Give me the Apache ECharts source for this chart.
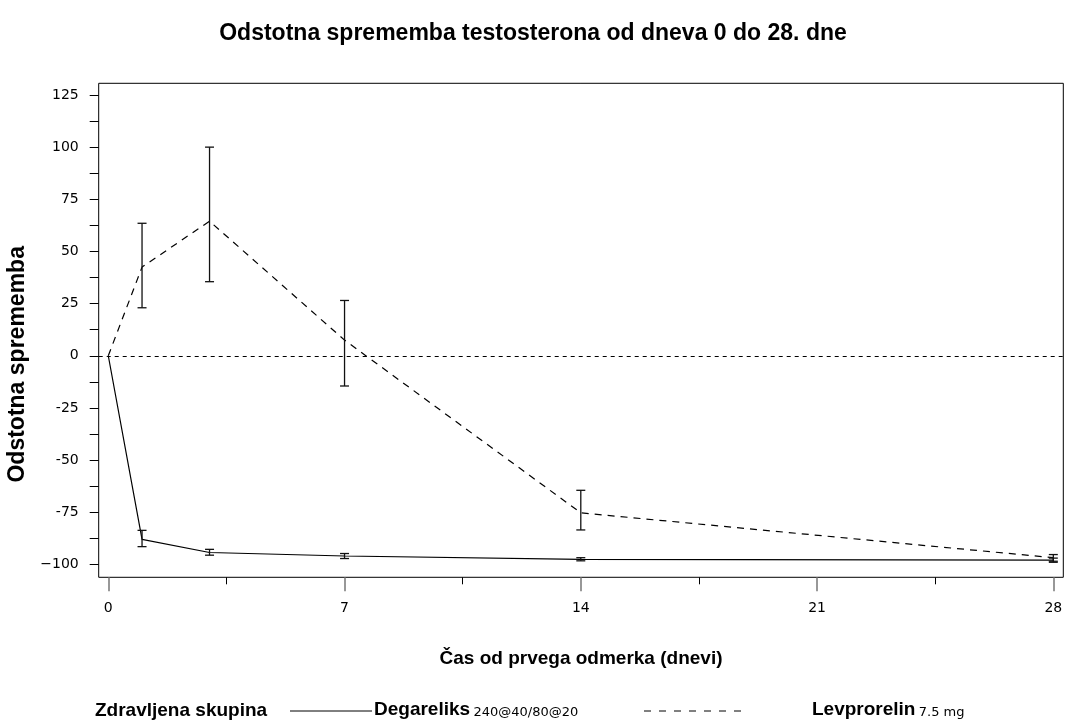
<!DOCTYPE html>
<html>
<head>
<meta charset="utf-8" />
<title>Odstotna sprememba testosterona</title>
<script src="https://cdn.jsdelivr.net/npm/echarts@6/dist/echarts.min.js"></script>
<style>
html, body { margin: 0; padding: 0; background: #fff; }
#chart { width: 1066px; height: 720px; }
</style>
</head>
<body>
<div id="chart"></div>
<script>
// days of measurement
var days = [0, 1, 3, 7, 14, 28];

// Degareliks (solid line)
var degMean = [0, -88, -94.3, -96, -97.6, -98];
var degLow = [null, -91.5, -95.6, -97.2, -98.3, -99];
var degHigh = [null, -83.7, -92.8, -94.8, -96.8, -97];

// Levprorelin (dashed line)
var levMean = [0, 42.5, 64.5, 7.5, -75.3, -96.8];
var levLow = [null, 23, 35.5, -14.5, -83.5, -98.5];
var levHigh = [null, 63.5, 100, 26.5, -64.5, -95.3];

var xLabels = [0, 7, 14, 21, 28];
var xMinor = [3.5, 10.5, 17.5, 24.5];
var yLabels = [-100, -75, -50, -25, 0, 25, 50, 75, 100, 125];
var yTicks = [-100, -87.5, -75, -62.5, -50, -37.5, -25, -12.5, 0, 12.5, 25, 37.5, 50, 62.5, 75, 87.5, 100, 112.5, 125];

function pairs(xs, ys) {
  var out = [];
  for (var i = 0; i < xs.length; i++) out.push([xs[i], ys[i]]);
  return out;
}
function bars(xs, lo, hi) {
  var out = [];
  for (var i = 0; i < xs.length; i++) {
    if (lo[i] == null) continue;
    out.push([xs[i], lo[i], hi[i]]);
  }
  return out;
}

function errorBar(params, api) {
  var x = api.value(0);
  var lo = api.coord([x, api.value(1)]);
  var hi = api.coord([x, api.value(2)]);
  var w = 4.5;
  var st = { stroke: '#111', lineWidth: 1.3 };
  return {
    type: 'group',
    children: [
      { type: 'line', shape: { x1: lo[0], y1: lo[1], x2: hi[0], y2: hi[1] }, style: st },
      { type: 'line', shape: { x1: lo[0] - w, y1: lo[1], x2: lo[0] + w, y2: lo[1] }, style: st },
      { type: 'line', shape: { x1: hi[0] - w, y1: hi[1], x2: hi[0] + w, y2: hi[1] }, style: st }
    ]
  };
}

var tickFont = 'DejaVu Sans';
var boldFont = 'Liberation Sans';

var myChart = echarts.init(document.getElementById('chart'), null, { renderer: 'canvas' });

var option = {
  animation: false,
  backgroundColor: '#fff',
  title: {
    text: 'Odstotna sprememba testosterona od dneva 0 do 28. dne',
    left: 'center',
    top: 17,
    textStyle: { fontFamily: boldFont, fontWeight: 'bold', fontSize: 23, color: '#000' }
  },
  grid: {
    left: 98.7, right: 2.7, top: 83.3, bottom: 142.7,
    outerBoundsMode: 'none',
    containLabel: false,
    show: true, borderColor: '#000', borderWidth: 1, backgroundColor: 'transparent'
  },
  xAxis: [{
    type: 'value',
    min: -0.284, max: 28.296,
    name: 'Čas od prvega odmerka (dnevi)',
    nameLocation: 'middle',
    nameGap: 72,
    nameTextStyle: { fontFamily: boldFont, fontWeight: 'bold', fontSize: 19, color: '#000' },
    axisLine: { show: false, onZero: false },
    splitLine: { show: false },
    axisTick: { show: true, customValues: xLabels, length: 14, lineStyle: { color: '#777', width: 1.5 } },
    axisLabel: { customValues: xLabels, margin: 24, fontFamily: tickFont, fontSize: 14, color: '#000' }
  }, {
    type: 'value',
    position: 'bottom',
    min: -0.284, max: 28.296,
    axisLine: { show: false, onZero: false },
    splitLine: { show: false },
    axisTick: { show: true, customValues: xMinor, length: 7, lineStyle: { color: '#000', width: 1 } },
    axisLabel: { show: false }
  }],
  yAxis: {
    type: 'value',
    min: -106.2, max: 130.6,
    name: 'Odstotna sprememba',
    nameLocation: 'middle',
    nameGap: 66,
    nameRotate: 90,
    nameTextStyle: {
      fontFamily: boldFont, fontWeight: 'bold', fontSize: 23, color: '#000',
      padding: [0, 68, 0, 0]
    },
    axisLine: { show: false, onZero: false },
    splitLine: { show: false },
    axisTick: { show: true, customValues: yTicks, length: 9, lineStyle: { color: '#000', width: 1 } },
    axisLabel: {
      customValues: yLabels, margin: 20, fontFamily: tickFont, fontSize: 14, color: '#000',
      formatter: function (v) {
        if (v === -100) return '\u2212100';
        return String(v);
      }
    }
  },
  graphic: [
    { type: 'text', left: 95, top: 701,
      style: { text: 'Zdravljena skupina', font: 'bold 19px Liberation Sans', fill: '#000' } },
    { type: 'line', shape: { x1: 290, y1: 711, x2: 372, y2: 711 }, style: { stroke: '#000', lineWidth: 1 } },
    { type: 'text', left: 374, top: 700,
      style: {
        text: '{b|Degareliks} {s|240@40/80@20}',
        rich: {
          b: { font: 'bold 19px Liberation Sans', fill: '#000', verticalAlign: 'bottom' },
          s: { font: '13px DejaVu Sans', fill: '#000', verticalAlign: 'bottom' }
        }
      } },
    { type: 'line', shape: { x1: 644, y1: 711, x2: 744, y2: 711 }, style: { stroke: '#000', lineWidth: 1, lineDash: [7, 8] } },
    { type: 'text', left: 812, top: 700,
      style: {
        text: '{b|Levprorelin} {s|7.5 mg}',
        rich: {
          b: { font: 'bold 19px Liberation Sans', fill: '#000', verticalAlign: 'bottom' },
          s: { font: '13px DejaVu Sans', fill: '#000', verticalAlign: 'bottom' }
        }
      } }
  ],
  series: [{
    name: 'Degareliks',
    type: 'line',
    data: pairs(days, degMean),
    showSymbol: false,
    symbol: 'none',
    lineStyle: { color: '#000', width: 1.2, type: 'solid' },
    z: 3,
    markLine: {
      silent: true,
      symbol: 'none',
      label: { show: false },
      lineStyle: { color: '#000', width: 1, type: [4, 4] },
      data: [{ yAxis: 0 }]
    }
  }, {
    name: 'Levprorelin',
    type: 'line',
    data: pairs(days, levMean),
    showSymbol: false,
    symbol: 'none',
    lineStyle: { color: '#000', width: 1.2, type: [7, 6] },
    z: 3
  }, {
    name: 'Degareliks CI',
    type: 'custom',
    renderItem: errorBar,
    data: bars(days, degLow, degHigh),
    z: 4
  }, {
    name: 'Levprorelin CI',
    type: 'custom',
    renderItem: errorBar,
    data: bars(days, levLow, levHigh),
    z: 4
  }]
};

myChart.setOption(option);
</script>
</body>
</html>
